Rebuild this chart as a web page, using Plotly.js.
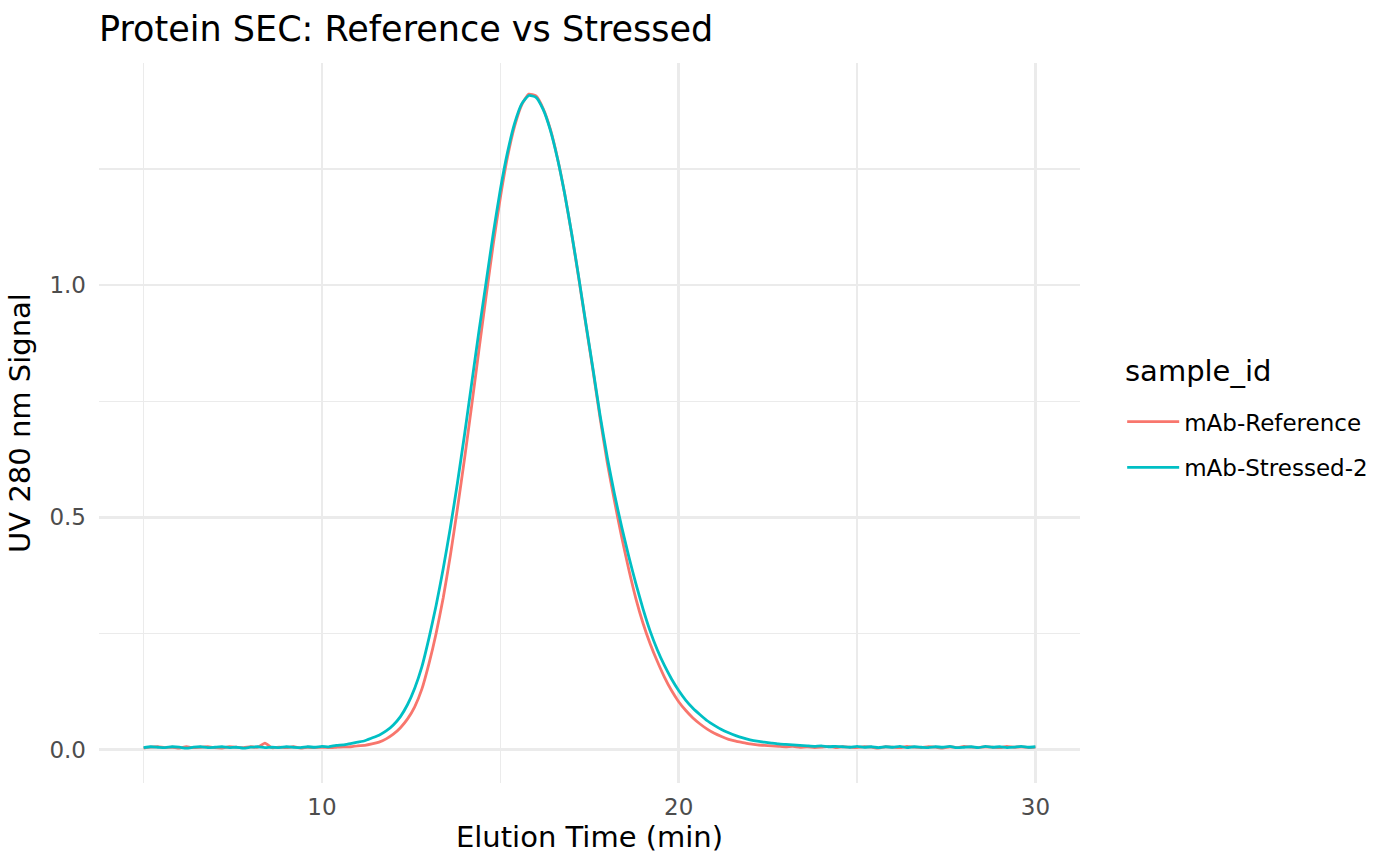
<!DOCTYPE html>
<html>
<head>
<meta charset="utf-8">
<script src="https://cdn.plot.ly/plotly-3.0.1.min.js"></script>
<style>
  html, body { margin: 0; padding: 0; background: #ffffff; }
  #chart { width: 1400px; height: 866px; }
</style>
</head>
<body>
<div id="chart"></div>
<script>
// Elution time (min)
const time_min = [
  5, 5.2, 5.4, 5.6, 5.8, 6, 6.2, 6.4, 6.6, 6.8,
  7, 7.2, 7.4, 7.6, 7.8, 8, 8.2, 8.4, 8.6, 8.8,
  9, 9.2, 9.4, 9.6, 9.8, 10, 10.2, 10.4, 10.6, 10.8,
  11, 11.2, 11.4, 11.6, 11.8, 12, 12.2, 12.4, 12.6, 12.8,
  13, 13.2, 13.4, 13.6, 13.8, 14, 14.2, 14.4, 14.6, 14.8,
  15, 15.2, 15.4, 15.6, 15.8, 16, 16.2, 16.4, 16.6, 16.8,
  17, 17.2, 17.4, 17.6, 17.8, 18, 18.2, 18.4, 18.6, 18.8,
  19, 19.2, 19.4, 19.6, 19.8, 20, 20.2, 20.4, 20.6, 20.8,
  21, 21.2, 21.4, 21.6, 21.8, 22, 22.2, 22.4, 22.6, 22.8,
  23, 23.2, 23.4, 23.6, 23.8, 24, 24.2, 24.4, 24.6, 24.8,
  25, 25.2, 25.4, 25.6, 25.8, 26, 26.2, 26.4, 26.6, 26.8,
  27, 27.2, 27.4, 27.6, 27.8, 28, 28.2, 28.4, 28.6, 28.8,
  29, 29.2, 29.4, 29.6, 29.8, 30
];

// UV 280 nm signal, mAb-Reference
const reference_signal = [
  0.003, 0.005, 0.006, 0.004, 0.005, 0.003, 0.006, 0.004, 0.005, 0.006,
  0.004, 0.003, 0.006, 0.005, 0.004, 0.006, 0.005, 0.014, 0.004, 0.005,
  0.004, 0.006, 0.003, 0.005, 0.004, 0.005, 0.004, 0.005, 0.006, 0.006,
  0.008, 0.009, 0.012, 0.016, 0.023, 0.033, 0.047, 0.066, 0.092, 0.130,
  0.185, 0.250, 0.327, 0.418, 0.520, 0.628, 0.742, 0.860, 0.975, 1.087,
  1.188, 1.275, 1.342, 1.388, 1.411, 1.407, 1.380, 1.336, 1.274, 1.198,
  1.110, 1.014, 0.914, 0.815, 0.712, 0.617, 0.535, 0.458, 0.388, 0.325,
  0.272, 0.228, 0.190, 0.156, 0.127, 0.103, 0.084, 0.068, 0.055, 0.044,
  0.035, 0.028, 0.022, 0.018, 0.015, 0.012, 0.010, 0.009, 0.008, 0.007,
  0.006, 0.007, 0.005, 0.006, 0.004, 0.005, 0.007, 0.004, 0.006, 0.005,
  0.004, 0.006, 0.005, 0.003, 0.006, 0.005, 0.004, 0.007, 0.005, 0.004,
  0.006, 0.005, 0.003, 0.006, 0.004, 0.007, 0.005, 0.004, 0.006, 0.005,
  0.004, 0.007, 0.005, 0.006, 0.004, 0.005
];

// UV 280 nm signal, mAb-Stressed-2
const stressed_signal = [
  0.004, 0.006, 0.005, 0.004, 0.006, 0.005, 0.003, 0.005, 0.006, 0.004,
  0.005, 0.006, 0.004, 0.005, 0.003, 0.005, 0.006, 0.004, 0.005, 0.004,
  0.006, 0.005, 0.004, 0.006, 0.005, 0.007, 0.006, 0.009, 0.010, 0.013,
  0.016, 0.019, 0.025, 0.031, 0.040, 0.053, 0.071, 0.097, 0.132, 0.178,
  0.240, 0.310, 0.390, 0.478, 0.575, 0.680, 0.790, 0.900, 1.005, 1.110,
  1.205, 1.285, 1.348, 1.390, 1.408, 1.404, 1.378, 1.334, 1.273, 1.198,
  1.111, 1.016, 0.916, 0.818, 0.718, 0.628, 0.550, 0.480, 0.416, 0.357,
  0.303, 0.255, 0.215, 0.181, 0.152, 0.127, 0.106, 0.089, 0.075, 0.062,
  0.052, 0.043, 0.036, 0.030, 0.025, 0.021, 0.018, 0.016, 0.014, 0.012,
  0.011, 0.010, 0.009, 0.008, 0.007, 0.008, 0.006, 0.007, 0.006, 0.005,
  0.007, 0.005, 0.006, 0.004, 0.006, 0.005, 0.007, 0.004, 0.006, 0.005,
  0.004, 0.006, 0.005, 0.007, 0.004, 0.005, 0.006, 0.004, 0.007, 0.005,
  0.006, 0.004, 0.005, 0.007, 0.005, 0.006
];

const sample_ids = ["mAb-Reference", "mAb-Stressed-2"];
const sample_colors = ["#F8766D", "#00BFC4"];
const legend_title = "sample_id";
const x_tick_vals = [10, 20, 30];
const y_tick_vals = [0, 0.5, 1.0];

const FONT = "DejaVu Sans, Verdana, sans-serif";

const traces = [reference_signal, stressed_signal].map((sig, i) => ({
  type: "scatter",
  mode: "lines",
  x: time_min,
  y: sig,
  name: sample_ids[i],
  legendgroup: sample_ids[i],
  line: { color: sample_colors[i], width: 2.8, shape: "spline", smoothing: 0.5 },
  hoverinfo: "x+y+name"
}));

const layout = {
  width: 1400,
  height: 866,
  paper_bgcolor: "#ffffff",
  plot_bgcolor: "#ffffff",
  font: { family: FONT, color: "#000000" },
  margin: { l: 99, r: 320, t: 63, b: 83, pad: 0 },
  title: {
    text: "Protein SEC: Reference vs Stressed",
    font: { family: FONT, size: 35, color: "#000000" },
    xref: "paper", x: 0, xanchor: "left",
    yref: "container", y: 1 - 29 / 866, yanchor: "middle"
  },
  xaxis: {
    range: [3.75, 31.25],
    tickmode: "array",
    tickvals: x_tick_vals,
    ticktext: x_tick_vals.map(String),
    ticks: "",
    showline: false,
    zeroline: false,
    showgrid: true,
    gridcolor: "#EBEBEB",
    gridwidth: 2.6,
    minor: { tickmode: "array", tickvals: [5, 15, 25], showgrid: true, gridcolor: "#EBEBEB", gridwidth: 1.3, ticks: "" },
    tickfont: { family: FONT, size: 23, color: "#4D4D4D" },
    ticklabelstandoff: 8,
    title: { text: "Elution Time (min)", font: { family: FONT, size: 29, color: "#000000" }, standoff: 5 },
    automargin: false
  },
  yaxis: {
    range: [-0.072, 1.478],
    tickmode: "array",
    tickvals: y_tick_vals,
    ticktext: y_tick_vals.map(v => v.toFixed(1)),
    ticks: "",
    showline: false,
    zeroline: false,
    showgrid: true,
    gridcolor: "#EBEBEB",
    gridwidth: 2.6,
    minor: { tickmode: "array", tickvals: [0.25, 0.75, 1.25], showgrid: true, gridcolor: "#EBEBEB", gridwidth: 1.3, ticks: "" },
    tickfont: { family: FONT, size: 23, color: "#4D4D4D" },
    ticklabelstandoff: 12,
    title: { text: "UV 280 nm Signal", font: { family: FONT, size: 29, color: "#000000" }, standoff: 10 },
    automargin: false
  },
  showlegend: true,
  legend: {
    x: 1.043, xanchor: "left",
    y: 0.470, yanchor: "middle",
    bgcolor: "rgba(0,0,0,0)",
    borderwidth: 0,
    traceorder: "grouped",
    tracegroupgap: 13,
    itemwidth: 52,
    font: { family: FONT, size: 23, color: "#000000" }
  },
  annotations: [{
    text: legend_title,
    xref: "paper", yref: "paper",
    x: 1.044, xanchor: "left",
    y: 0.572, yanchor: "middle",
    showarrow: false,
    font: { family: FONT, size: 29, color: "#000000" }
  }]
};

Plotly.newPlot("chart", traces, layout, { displayModeBar: false, staticPlot: true });
</script>
</body>
</html>
